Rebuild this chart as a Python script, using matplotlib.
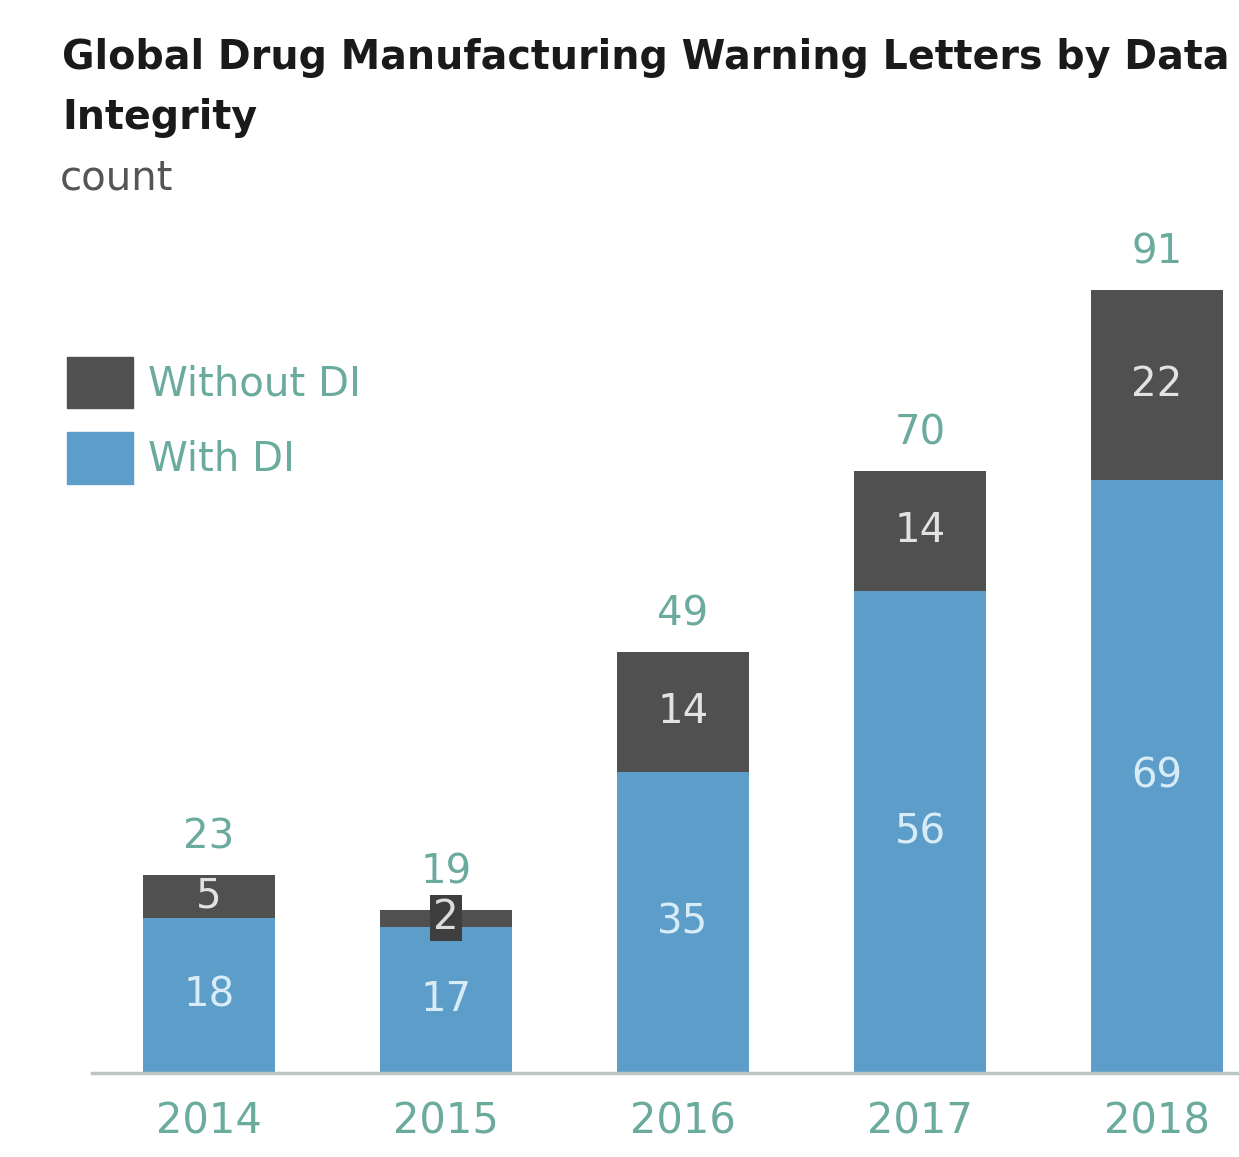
import matplotlib
matplotlib.use("Agg")
import matplotlib.pyplot as plt
from matplotlib.patches import Patch

years = ["2014", "2015", "2016", "2017", "2018"]
with_di = [18, 17, 35, 56, 69]
without_di = [5, 2, 14, 14, 22]
totals = [23, 19, 49, 70, 91]

DARK = "#505050"
BLUE = "#5d9dc9"
TEAL = "#6aab9d"
AXIS = "#b9c6c1"

plt.rcParams["font.family"] = ["DejaVu Sans"]

W, H = 1239, 1157
fig = plt.figure(figsize=(W / 100, H / 100), dpi=100)
ax = fig.add_axes([92 / W, (H - 1073) / H, (W - 92) / W, (1073 - 200) / H])

x = list(range(len(years)))
bw = 0.557
ax.bar(x, with_di, width=bw, color=BLUE, zorder=2)
ax.bar(x, without_di, width=bw, bottom=with_di, color=DARK, zorder=2)

for i in x:
    ax.text(i, with_di[i] / 2, str(with_di[i]), ha="center", va="center",
            fontsize=29, color="#d8ecf7", zorder=3)
    mid = with_di[i] + without_di[i] / 2
    if without_di[i] < 4:
        ax.text(i, mid, str(without_di[i]), ha="center", va="center",
                fontsize=29, color="#dcdcdc", zorder=3,
                bbox=dict(boxstyle="square,pad=0.08", fc="#3e3e3e", ec="none"))
    else:
        ax.text(i, mid, str(without_di[i]), ha="center", va="center",
                fontsize=29, color="#e2e2e2", zorder=3)
    ax.annotate(str(totals[i]), (i, totals[i]), xytext=(0, 27),
                textcoords="offset points", ha="center", va="center",
                fontsize=29, color=TEAL)

ax.set_xlim((92 - 209) / 237, (W - 209) / 237)
ax.set_ylim(0, (1073 - 200) / 8.6)
ax.set_xticks(x)
ax.set_xticklabels(years, fontsize=30, color=TEAL)
ax.tick_params(axis="x", length=0, pad=20)
ax.set_yticks([])
for s in ["top", "right", "left"]:
    ax.spines[s].set_visible(False)
ax.spines["bottom"].set_color(AXIS)
ax.spines["bottom"].set_linewidth(2.5)

fig.text(62 / W, 1 - 38 / H, "Global Drug Manufacturing Warning Letters by Data\nIntegrity",
         ha="left", va="top", fontsize=28.5, fontweight="bold", color="#1a1a1a",
         linespacing=1.65)
fig.text(60 / W, 1 - 158 / H, "count", ha="left", va="top", fontsize=29, color="#555555")

handles = [Patch(color=DARK, label="Without DI"), Patch(color=BLUE, label="With DI")]
fig.legend(handles=handles, loc="upper left", bbox_to_anchor=(67 / W, 1 - 357 / H),
           frameon=False, fontsize=29, labelcolor=TEAL, handlelength=1.65,
           handleheight=1.58, handletextpad=0.35, labelspacing=0.6,
           borderpad=0, borderaxespad=0)

fig.savefig("out.png", dpi=100)
